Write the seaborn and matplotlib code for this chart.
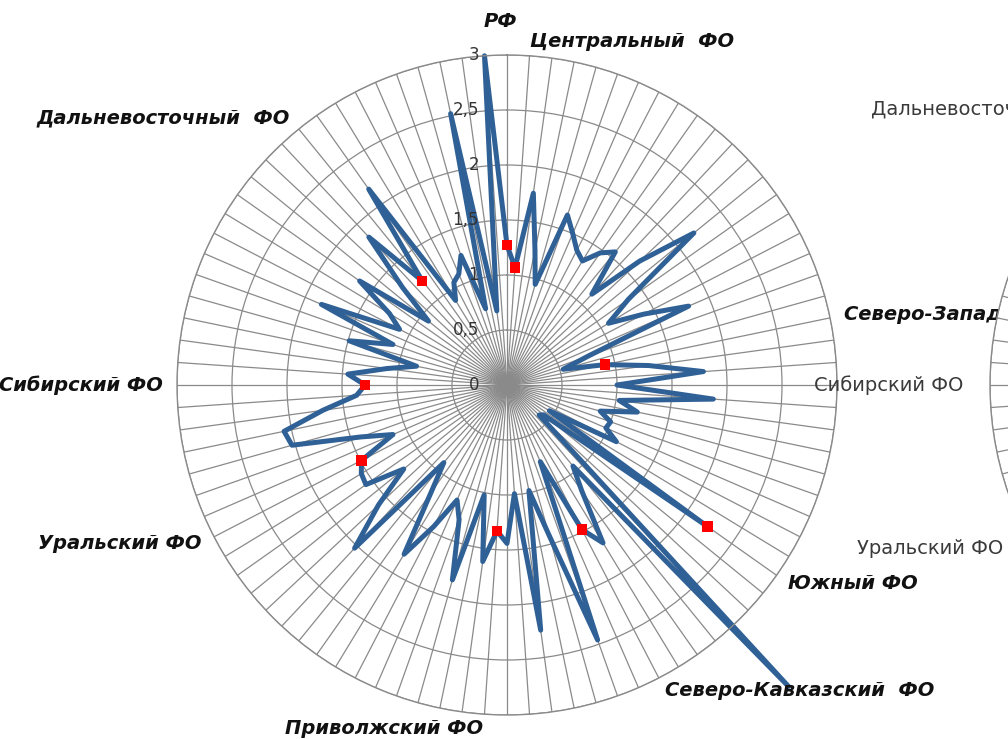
import numpy as np
import pandas as pd
import seaborn as sns
import matplotlib
matplotlib.use("Agg")
import matplotlib.pyplot as plt

# 92 categories: РФ, then each federal district followed by its regions
n_cat = 92
fo_names = ["РФ", "Центральный  ФО", "Северо-Западный ФО", "Южный ФО",
            "Северо-Кавказский  ФО", "Приволжский ФО", "Уральский ФО",
            "Сибирский ФО", "Дальневосточный  ФО"]
fo_pos = [0, 1, 20, 32, 39, 47, 62, 69, 82]

values = [1.27, 1.07, 1.76, 1.25, 0.95, 1.64, 1.50, 1.38, 1.32, 1.47,
          1.56, 1.13, 1.65, 2.19, 1.35, 1.08, 1.40, 1.80, 0.78, 0.53,
          0.91, 1.30, 1.79, 1.00, 1.88, 1.03, 1.21, 0.88, 1.00, 0.98,
          1.12, 0.45, 2.23, 0.43, 0.40, 3.75, 0.95, 1.18, 1.68, 1.48,
          0.76, 2.46, 1.42, 0.98, 2.25, 0.99, 1.44, 1.33, 1.62, 1.02,
          1.84, 1.30, 1.14, 1.45, 1.80, 1.20, 0.91, 2.03, 1.60, 1.21,
          1.57, 1.55, 1.49, 1.13, 1.41, 2.03, 2.07, 1.69, 1.37, 1.29,
          1.45, 1.10, 0.84, 1.49, 1.10, 1.84, 1.10, 1.25, 1.64, 0.92,
          1.30, 1.84, 1.22, 2.18, 0.90, 1.05, 1.10, 1.25, 0.72, 2.52,
          0.68, 3.00]

r_ticks = [0, 0.5, 1, 1.5, 2, 2.5, 3]
r_tick_labels = ["0", "0,5", "1", "1,5", "2", "2,5", "3"]

# labels of the neighbouring chart (cut off at the right edge)
right_names = ["Сибирский ФО", "Уральский ФО", "Дальневосточный ФО"]
right_pos = [69, 62, 82]

blue = "#2f6096"
grid_col = "#8a8a8a"

sns.set_style("white")
plt.rcParams["font.family"] = ["DejaVu Sans"]

W, H = 1008, 739
fig = plt.figure(figsize=(W / 100, H / 100), dpi=100)

theta = np.arange(n_cat) * 2 * np.pi / n_cat


def radar_axes(cx, cy, rad):
    a = fig.add_axes([(cx - rad) / W, (H - cy - rad) / H, 2 * rad / W, 2 * rad / H],
                     projection="polar")
    a.set_theta_zero_location("N")
    a.set_theta_direction(-1)
    a.set_ylim(0, 3)
    a.set_xticks(theta)
    a.set_xticklabels([])
    a.set_yticks(r_ticks[1:])
    a.set_yticklabels([])
    a.grid(True, color=grid_col, linewidth=0.9)
    a.spines["polar"].set_color(grid_col)
    a.spines["polar"].set_linewidth(1.0)
    a.set_facecolor("white")
    return a


ax = radar_axes(507, 385, 330)

# neighbouring chart, mostly outside the picture, drawn on top
ax2 = radar_axes(1320, 385, 330)
ax2.set_zorder(2)
for name, p in zip(right_names, right_pos):
    t = ax2.text(theta[p], 3.24, name, ha="right", va="center", fontsize=14,
                 color="#3a3a3a")
    t.set_clip_on(False)

df = pd.DataFrame({"theta": np.append(theta, 2 * np.pi),
                   "value": values + values[:1]})
sns.lineplot(data=df, x="theta", y="value", sort=False, ax=ax,
             color=blue, linewidth=3.6)
ax.lines[-1].set_clip_on(False)

fo_df = pd.DataFrame({"theta": theta[fo_pos], "value": [values[p] for p in fo_pos]})
sns.scatterplot(data=fo_df, x="theta", y="value", ax=ax, marker="s", s=55,
                color="red", edgecolor="none", zorder=5)
ax.set_xlabel("")
ax.set_ylabel("")

for r, lab in zip(r_ticks, r_tick_labels):
    ax.text(0.5 - 28 / 660, 0.5 + r / 6, lab, transform=ax.transAxes,
            ha="right", va="center", fontsize=12, color="#333333")

for name, p in zip(fo_names, fo_pos):
    ang = np.degrees(theta[p])
    if p == 0:
        t = ax.text(theta[p] - 0.02, 3.22, name, ha="center", va="bottom")
    else:
        ha = "left" if ang < 180 else "right"
        t = ax.text(theta[p], 3.13, name, ha=ha, va="center")
    t.set_fontsize(14)
    t.set_fontweight("bold")
    t.set_fontstyle("italic")
    t.set_color("#111111")
    t.set_clip_on(False)

fig.savefig("out.png", dpi=100)
